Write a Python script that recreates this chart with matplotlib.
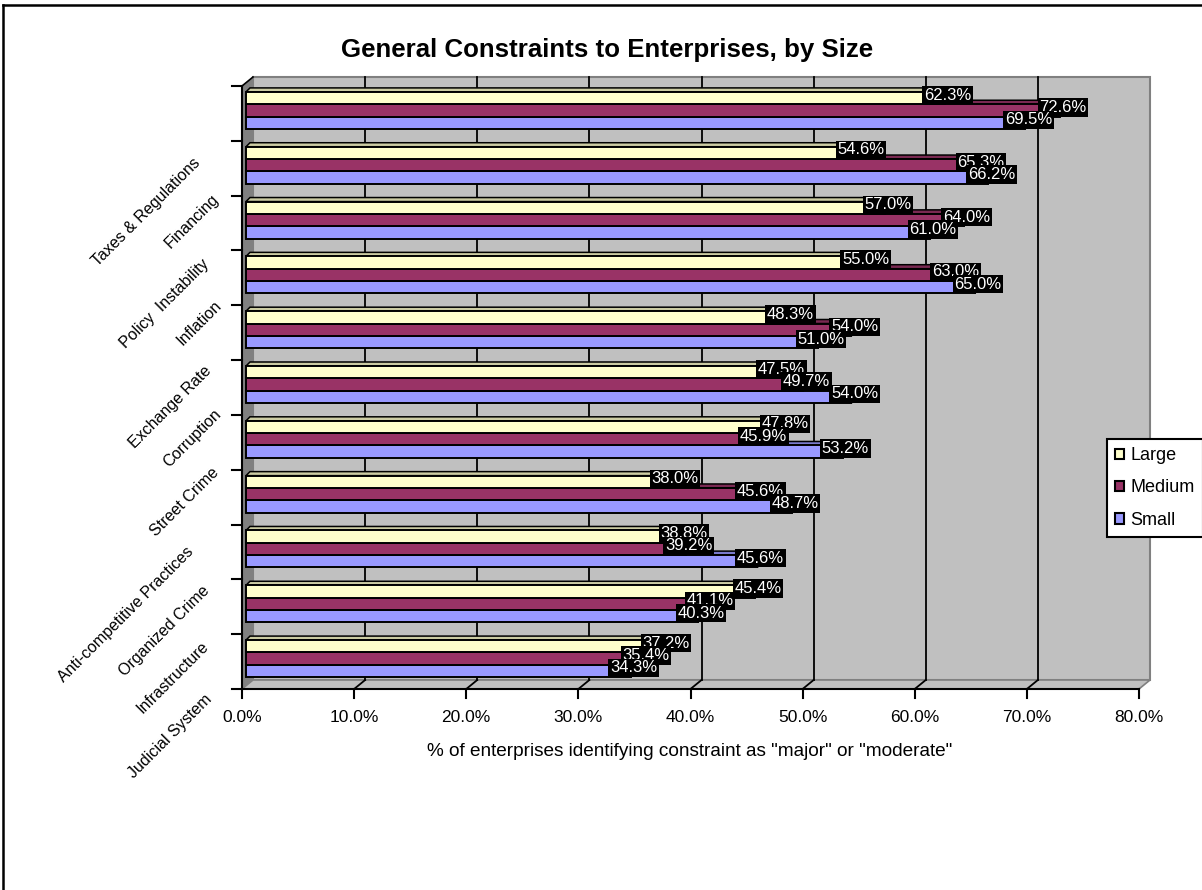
import matplotlib
matplotlib.use("Agg")
import matplotlib.pyplot as plt
import matplotlib.transforms as mtransforms
from matplotlib.patches import Polygon, Patch, Rectangle
from matplotlib.lines import Line2D
from matplotlib import font_manager
import numpy as np

# ---------------- data ----------------
categories = ["Taxes & Regulations", "Financing", "Policy  Instability", "Inflation",
              "Exchange Rate", "Corruption", "Street Crime", "Anti-competitive Practices",
              "Organized Crime", "Infrastructure", "Judicial System"]
large = [62.3, 54.6, 57.0, 55.0, 48.3, 47.5, 47.8, 38.0, 38.8, 45.4, 37.2]
medium = [72.6, 65.3, 64.0, 63.0, 54.0, 49.7, 45.9, 45.6, 39.2, 41.1, 35.4]
small = [69.5, 66.2, 61.0, 65.0, 51.0, 54.0, 53.2, 48.7, 45.6, 40.3, 34.3]
series_names = ["Large", "Medium", "Small"]
x_ticks = [0, 10, 20, 30, 40, 50, 60, 70, 80]
title = "General Constraints to Enterprises, by Size"
x_label = '% of enterprises identifying constraint as "major" or "moderate"'

# ---------------- styling ----------------
colors = ["#FFFFCC", "#993366", "#9999FF"]
WALL = "#C0C0C0"
SIDE = "#808080"
EDGE = "#808080"
BASE_FONT = ["Liberation Sans", "DejaVu Sans"]
plt.rcParams["font.family"] = BASE_FONT


def has_font(name):
    try:
        font_manager.findfont(font_manager.FontProperties(family=name),
                              fallback_to_default=False)
        return True
    except Exception:
        return False


if has_font("Liberation Sans Narrow"):
    cat_font, cat_size = ["Liberation Sans Narrow", "DejaVu Sans"], 13
else:
    cat_font, cat_size = BASE_FONT, 11.5

W, H = 1202, 890
fig = plt.figure(figsize=(W / 100, H / 100), dpi=100)

# back wall of the 3-D plot box, in pixels
BX0, BX1, BY0, BY1 = 253, 1150, 77, 680
ax = fig.add_axes([BX0 / W, 1 - BY1 / H, (BX1 - BX0) / W, (BY1 - BY0) / H])
n = len(categories)
ax.set_xlim(0, 80)
ax.set_ylim(n, 0)
ax.axis("off")

ppx = (BX1 - BX0) / 80.0   # pixels per percent
ppy = (BY1 - BY0) / n      # pixels per category


def off(dx, dy):
    """pixel offset (right, down) expressed in data units"""
    return dx / ppx, dy / ppy


def shift(dx, dy):
    return ax.transData + mtransforms.ScaledTranslation(dx / 100.0, -dy / 100.0,
                                                        fig.dpi_scale_trans)


FRONT = (-11, 9)          # front plane relative to the back wall
fdx, fdy = off(*FRONT)

# back wall
ax.add_patch(Rectangle((0, 0), 80, n, facecolor=WALL, edgecolor=EDGE, lw=1.5,
                       zorder=0, clip_on=False))
# floor
ax.add_patch(Polygon([(0, n), (80, n), (80 + fdx, n + fdy), (fdx, n + fdy)],
                     closed=True, facecolor=WALL, edgecolor=EDGE, lw=1.2,
                     zorder=0.5, clip_on=False))
# side wall
ax.add_patch(Polygon([(0, 0), (0, n), (fdx, n + fdy), (fdx, fdy)], closed=True,
                     facecolor=SIDE, edgecolor="none", zorder=0.6, clip_on=False))
ax.plot([fdx, 0], [fdy, 0], color="black", lw=1.2, zorder=0.7, clip_on=False)

# grid on back wall and floor
for t in x_ticks[1:-1]:
    ax.plot([t, t], [0, n], color="black", lw=1.3, zorder=1, clip_on=False)
    ax.plot([t, t + fdx], [n, n + fdy], color="black", lw=1.3, zorder=1, clip_on=False)

# front axes lines
ax.plot([fdx, 80 + fdx], [n + fdy, n + fdy], color="black", lw=1.5, zorder=6, clip_on=False)
ax.plot([fdx, fdx], [fdy, n + fdy], color="black", lw=1.5, zorder=6, clip_on=False)
tdx, _ = off(10, 0)
for k in range(n + 1):
    ax.plot([fdx - tdx, fdx], [k + fdy, k + fdy], color="black", lw=1.5,
            zorder=6, clip_on=False)
_, tdy = off(0, 9)
_, ldy = off(0, 28)
for t in x_ticks:
    ax.plot([t + fdx, t + fdx], [n + fdy, n + fdy + tdy], color="black", lw=1.5,
            zorder=6, clip_on=False)
    ax.text(t + fdx, n + fdy + ldy, f"{t:.1f}%", ha="center", va="center",
            fontsize=12.5, color="black", clip_on=False)


# bars with a shallow 3-D look
def shade(hexcol, f):
    rgb = np.array(matplotlib.colors.to_rgb(hexcol)) * f
    return tuple(rgb)


bar_h = 0.225
depth = off(4, -4)        # from front face toward the back
bar_front = shift(-7, 6)
series = [large, medium, small]
slot = [-1, 0, 1]
for i in range(n):
    for s in (2, 1, 0):
        v = series[s][i]
        yc = i + 0.5 + slot[s] * bar_h
        y0, y1 = yc - bar_h / 2, yc + bar_h / 2
        ddx, ddy = depth
        top = Polygon([(0, y0), (v, y0), (v + ddx, y0 + ddy), (ddx, y0 + ddy)],
                      closed=True, facecolor=shade(colors[s], 0.8), edgecolor="black",
                      lw=1.1, transform=bar_front, zorder=3 + i * 0.01, clip_on=False)
        side = Polygon([(v, y0), (v, y1), (v + ddx, y1 + ddy), (v + ddx, y0 + ddy)],
                       closed=True, facecolor=shade(colors[s], 0.65), edgecolor="black",
                       lw=1.1, transform=bar_front, zorder=3 + i * 0.01, clip_on=False)
        ax.add_patch(top)
        ax.add_patch(side)
        ax.barh(yc, v, height=bar_h, left=0, color=colors[s], edgecolor="black",
                linewidth=1.4, transform=bar_front, zorder=3 + i * 0.01 + 0.001,
                clip_on=False)

# value labels
lab_trans = shift(-4, 3)
for i in range(n):
    for s in (0, 1, 2):
        v = series[s][i]
        yc = i + 0.5 + slot[s] * bar_h
        ax.text(v, yc, f"{v:.1f}%", transform=lab_trans, ha="center", va="center",
                color="white", fontsize=12, zorder=10 + i * 0.1 + s * 0.01,
                bbox=dict(boxstyle="square,pad=0.1", facecolor="black",
                          edgecolor="none"), clip_on=False)

# rotated category labels (upper-right end of each label, pixels)
label_ends = [(193, 155), (211, 191), (201, 256), (214, 298), (204, 363),
              (213, 407), (211, 465), (186, 544), (202, 583), (201, 639), (204, 692)]
for name, (px, py) in zip(categories, label_ends):
    fig.text(px / W, 1 - py / H, name, rotation=45, rotation_mode="anchor",
             ha="right", va="top", fontsize=cat_size, family=cat_font, color="black")

# titles
fig.text(607 / W, 1 - 50 / H, title, ha="center", va="center", fontsize=18.6,
         fontweight="bold")
fig.text(690 / W, 1 - 752 / H, x_label, ha="center", va="center", fontsize=13.7)

# legend
handles = [Patch(facecolor=c, edgecolor="black", linewidth=1.5) for c in colors]
leg = fig.legend(handles, series_names, loc="upper left",
                 bbox_to_anchor=(1107 / W, 1 - 439 / H), borderaxespad=0,
                 frameon=True, fancybox=False, edgecolor="black", framealpha=1,
                 borderpad=0.45, handlelength=0.5, handleheight=0.5,
                 handletextpad=0.35, labelspacing=0.85, prop={"size": 13})
leg.get_frame().set_linewidth(1.5)

# chart area border (top and left edges)
fig.add_artist(Line2D([3 / W, 3 / W], [0, 1 - 5 / H], color="black", lw=1.8,
                      transform=fig.transFigure))
fig.add_artist(Line2D([3 / W, 1], [1 - 5 / H, 1 - 5 / H], color="black", lw=1.8,
                      transform=fig.transFigure))

fig.savefig("out.png", dpi=100)
